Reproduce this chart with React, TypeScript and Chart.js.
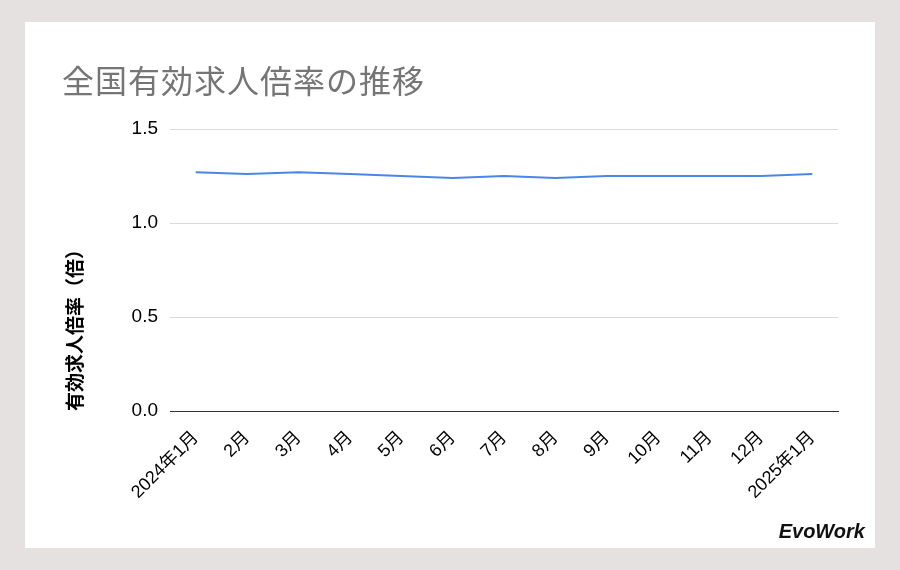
import { useEffect, useRef } from 'react';
import { Chart, registerables } from 'chart.js';

Chart.register(...registerables);

// 月ラベル（x軸）
const months = [
  '2024年1月', '2月', '3月', '4月', '5月', '6月', '7月',
  '8月', '9月', '10月', '11月', '12月', '2025年1月',
];
// 有効求人倍率（倍）
const ratios = [1.27, 1.26, 1.27, 1.26, 1.25, 1.24, 1.25, 1.24, 1.25, 1.25, 1.25, 1.25, 1.26];
const yTicks = [0, 0.5, 1.0, 1.5];

const chartTitle = '全国有効求人倍率の推移';
const yTitle = '有効求人倍率（倍）';

const jpFont = '"Liberation Sans", "Noto Sans CJK JP", sans-serif';

const App = () => {
  const canvasRef = useRef<HTMLCanvasElement | null>(null);

  useEffect(() => {
    if (!canvasRef.current) return;
    const chart = new Chart(canvasRef.current, {
      type: 'line',
      data: {
        labels: months,
        datasets: [
          {
            label: yTitle,
            data: ratios,
            borderColor: '#4a86e8',
            borderWidth: 2,
            pointRadius: 0,
            tension: 0,
            fill: false,
          },
        ],
      },
      options: {
        animation: false,
        responsive: false,
        layout: { padding: { top: 107, right: 37, left: 40, bottom: 0 } },
        plugins: {
          legend: { display: false },
          tooltip: { enabled: false },
        },
        scales: {
          x: {
            offset: true,
            grid: { display: false },
            border: { color: '#333333', width: 1 },
            ticks: {
              color: '#000000',
              font: { family: jpFont, size: 18 },
              maxRotation: 45,
              minRotation: 45,
              autoSkip: false,
              padding: 8,
            },
            afterFit: (s: any) => {
              s.height = 137;
            },
          },
          y: {
            min: 0,
            max: 1.5,
            afterBuildTicks: (s: any) => {
              s.ticks = yTicks.map((v) => ({ value: v }));
            },
            grid: {
              color: (ctx: any) => (ctx.tick && ctx.tick.value === 0 ? '#333333' : '#d9d9d9'),
              drawTicks: false,
            },
            border: { display: false },
            ticks: {
              color: '#000000',
              font: { family: jpFont, size: 19 },
              padding: 12,
              callback: (v: any) => Number(v).toFixed(1),
            },
            title: {
              display: true,
              text: yTitle,
              align: 'start',
              color: '#000000',
              font: { family: jpFont, size: 19, weight: 'bold' },
              padding: { top: 0, bottom: 8 },
            },
            afterFit: (s: any) => {
              s.width = 105;
            },
          },
        },
      },
    });
    return () => {
      chart.destroy();
    };
  }, []);

  return (
    <div style={{ position: 'fixed', left: 0, top: 0, width: 900, height: 570, background: '#e6e1e1' }}>
      <div style={{ position: 'absolute', left: 25, top: 22, width: 850, height: 526, background: '#ffffff' }}>
        <canvas ref={canvasRef} width={850} height={526} style={{ position: 'absolute', left: 0, top: 0, width: 850, height: 526 }}></canvas>
        <div
          style={{
            position: 'absolute', left: 37, top: 38, fontSize: 32, color: '#757575',
            fontFamily: '"Noto Sans CJK JP", sans-serif', lineHeight: '38px', letterSpacing: 1,
          }}
        >
          {chartTitle}
        </div>
        <div
          style={{
            position: 'absolute', right: 10, top: 498, fontSize: 20, color: '#111111',
            fontFamily: '"Liberation Sans", sans-serif', fontWeight: 'bold', fontStyle: 'italic', lineHeight: '22px',
          }}
        >
          EvoWork
        </div>
      </div>
    </div>
  );
};

export default App;
